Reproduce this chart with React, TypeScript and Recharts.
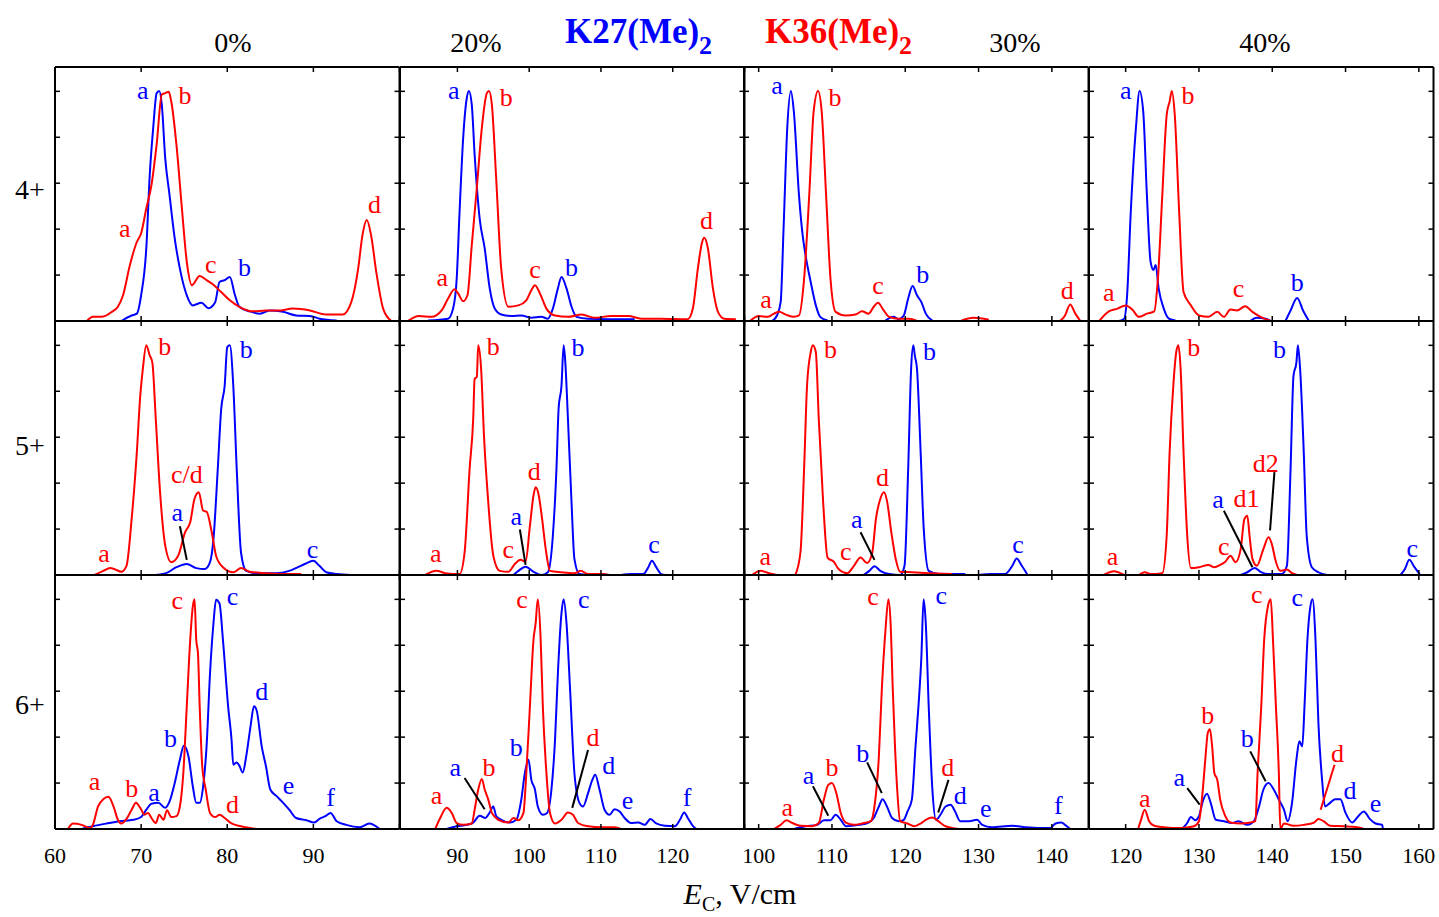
import React from "react";
import { LineChart, Line, XAxis, YAxis, ReferenceDot, ReferenceLine } from "recharts";

const FONT = '"Liberation Serif", "Times New Roman", serif';
const BLUE = "#0000ff";
const RED = "#ff0000";

// column = concentration, row = charge state
const concentrations = ["0%", "20%", "30%", "40%"];
const charges = ["4+", "5+", "6+"];
const colDomains = [[60, 100], [82, 130], [98, 145], [115, 162]];
const colTickMarks = [
  [60, 70, 80, 90, 100],
  [90, 100, 110, 120, 130],
  [100, 110, 120, 130, 140],
  [120, 130, 140, 150, 160],
];
const colTickLabels = [
  [60, 70, 80, 90],
  [90, 100, 110, 120],
  [100, 110, 120, 130, 140],
  [120, 130, 140, 150, 160],
];
const yTickMarks = [0, 1, 2, 3, 4, 5];

// ---- 4+ ----
const b4_0 = [[67.7,0],[68.9,0.12],[69.5,0.16],[70.0,0.56],[70.6,1.58],[71.0,3.18],[71.4,4.2],[71.8,4.96],[72.1,5.01],[72.4,4.71],[72.8,3.54],[73.3,2.74],[73.9,1.8],[74.5,1.14],[75.3,0.56],[76.0,0.34],[77.0,0.4],[77.8,0.28],[78.6,0.41],[79.1,0.85],[79.7,0.89],[80.3,0.96],[80.9,0.56],[81.4,0.31],[82.6,0.21],[83.8,0.16],[84.9,0.23],[86.5,0.2],[88.0,0.12],[89.6,0.11],[90.7,0.05],[92.7,0.01]];
const r4_0 = [[63.7,0],[64.4,0.09],[65.6,0.1],[66.6,0.2],[67.3,0.31],[67.9,0.56],[68.7,1.22],[69.5,1.72],[70.0,1.91],[70.6,2.45],[71.2,2.96],[71.8,3.84],[72.4,4.93],[72.8,4.96],[73.2,4.99],[73.5,4.78],[74.1,3.84],[74.7,2.53],[75.3,1.29],[75.9,0.78],[76.8,0.98],[77.6,0.89],[78.4,0.79],[79.3,0.63],[80.3,0.45],[81.4,0.31],[83.0,0.21],[84.5,0.23],[86.1,0.23],[87.6,0.27],[89.6,0.23],[91.5,0.14],[93.4,0.14],[94.4,0.41],[95.2,1.14],[95.7,1.87],[96.2,2.2],[96.7,1.87],[97.3,1.07],[98.1,0.27],[99.0,0.01]];
const b4_20 = [[85.9,0.01],[88.7,0.05],[89.4,0.27],[89.9,0.92],[90.3,2.38],[90.8,3.98],[91.3,4.85],[91.6,5.01],[92.0,4.71],[92.4,3.62],[93.1,2.23],[93.8,1.58],[94.5,0.71],[95.2,0.27],[96.1,0.14],[97.5,0.11],[98.9,0.12],[100.3,0.07],[101.7,0.09],[102.6,0.05],[103.3,0.27],[104.0,0.71],[104.5,0.96],[105.2,0.71],[105.9,0.31],[106.6,0.09],[108.2,0.05],[111.0,0.04],[114.7,0.04]];
const r4_20 = [[83.2,0.01],[84.6,0.11],[86.4,0.09],[87.8,0.23],[88.7,0.49],[89.6,0.69],[90.1,0.6],[90.8,0.43],[91.4,0.56],[92.0,1.65],[92.7,2.89],[93.4,4.2],[94.1,4.96],[94.4,5.01],[94.8,4.71],[95.4,3.11],[96.1,1.14],[97.1,0.31],[98.5,0.34],[99.6,0.45],[100.3,0.67],[100.8,0.78],[101.5,0.6],[102.4,0.27],[103.6,0.12],[105.4,0.09],[107.3,0.14],[109.1,0.07],[111.4,0.11],[113.8,0.11],[115.6,0.05],[118.4,0.05],[122.1,0.04],[122.8,0.27],[123.5,1.14],[124.1,1.72],[124.4,1.81],[124.9,1.58],[125.6,0.71],[126.3,0.2],[127.2,0.05],[128.8,0.04]];
const b4_30 = [[101.9,0.01],[102.5,0.12],[103.0,0.41],[103.4,2.02],[103.9,4.2],[104.4,5.01],[104.8,4.56],[105.5,2.74],[106.0,1.87],[106.4,1.43],[107.1,0.85],[107.8,0.34],[108.4,0.09],[109.4,0.01],[113,null],[117.3,0.01],[118.4,0.09],[119.1,0.04],[119.8,0.12],[120.4,0.49],[121.0,0.76],[121.6,0.56],[122.2,0.41],[122.8,0.16],[123.7,0.01]];
const r4_30 = [[98.9,0.01],[100.0,0.11],[101.2,0.09],[102.1,0.16],[102.8,0.2],[103.7,0.14],[104.8,0.09],[105.5,0.12],[106.2,0.92],[106.9,2.74],[107.5,4.56],[108.1,5.01],[108.6,4.56],[109.2,2.74],[109.8,0.92],[110.5,0.2],[111.9,0.12],[113.2,0.14],[114.1,0.21],[115.0,0.16],[115.7,0.31],[116.3,0.4],[116.9,0.27],[117.8,0.09],[119.1,0.05],[120.5,0.05],[121.6,0],[125,null],[127.7,0.01],[129.3,0.07],[131.4,0.03],[136,null],[141.1,0],[141.8,0.12],[142.5,0.36],[143.2,0.16],[143.9,0]];
const b4_40 = [[119.1,0],[119.8,0.05],[120.2,0.56],[120.7,2.38],[121.4,4.2],[121.9,5.01],[122.4,4.56],[122.9,2.74],[123.4,1.29],[123.8,1.11],[124.1,1.22],[124.5,0.71],[125.2,0.27],[125.9,0.05],[126.8,0.01],[130,null],[137.0,0],[137.9,0.07],[139.1,0.05],[139.8,0],[140.8,null],[141.8,0],[142.5,0.23],[143.4,0.5],[144.2,0.23],[145.0,0]];
const r4_40 = [[116.4,0],[117.7,0.21],[118.9,0.27],[120.0,0.34],[120.9,0.25],[121.8,0.09],[122.9,0.16],[123.9,0.21],[124.4,0.92],[125.0,2.74],[125.6,4.49],[126.0,4.78],[126.3,5.01],[126.7,4.49],[127.3,2.38],[127.9,0.63],[128.9,0.34],[130.0,0.12],[131.3,0.09],[132.5,0.2],[133.4,0.09],[134.3,0.25],[135.2,0.23],[136.3,0.32],[137.3,0.2],[138.4,0.09],[139.8,0]];

// ---- 5+ ----
const b5_0 = [[71.6,0],[72.9,0.04],[74.1,0.17],[75.3,0.24],[76.4,0.15],[77.4,0.13],[78.0,0.28],[78.4,0.78],[78.9,2.31],[79.3,3.62],[79.7,4.12],[80.0,4.96],[80.3,5.0],[80.7,4.12],[81.1,2.31],[81.6,0.49],[82.2,0.09],[83.4,0.04],[85.7,0.04],[87.2,0.09],[88.2,0.17],[89.0,0.24],[90.0,0.31],[90.7,0.2],[91.5,0.06],[92.7,0.02],[94.4,0]];
const r5_0 = [[64.6,0],[65.6,0.09],[66.4,0.15],[67.0,0.12],[67.7,0.07],[68.3,0.2],[68.9,1.22],[69.5,2.67],[69.9,3.91],[70.2,4.49],[70.6,5.0],[71.0,4.78],[71.3,4.63],[71.7,3.4],[72.2,1.8],[72.8,0.64],[73.5,0.28],[74.3,0.42],[75.1,0.93],[75.7,1.15],[76.2,1.66],[76.7,1.8],[77.2,1.4],[77.6,1.38],[78.2,0.93],[78.7,0.42],[79.5,0.17],[80.7,0.06],[81.6,0.15],[82.6,0.07],[84.5,0.04],[86.5,0.02],[88.6,0.02]];
const b5_20 = [[97.8,0],[98.5,0.09],[99.5,0.18],[100.6,0.07],[101.7,0],[102.6,0.06],[103.3,0.86],[103.8,2.31],[104.1,3.62],[104.5,4.12],[104.8,5.0],[105.0,4.71],[105.4,3.4],[105.9,1.58],[106.3,0.35],[107.0,0.02],[108.7,0],[109.6,0.02],[111.0,0],[112,null],[112.8,0],[114.2,0.02],[115.9,0.02],[116.6,0.17],[117.1,0.31],[117.7,0.17],[118.4,0.02],[119.0,0]];
const r5_20 = [[85.5,0],[87.1,0.09],[88.3,0.04],[90.3,0.02],[91.0,0.49],[91.7,2.31],[92.2,3.4],[92.4,4.27],[92.7,4.31],[92.9,5.0],[93.3,4.49],[93.7,3.04],[94.3,1.58],[95.0,0.42],[95.9,0.09],[97.1,0.07],[98.0,0.24],[98.8,0.33],[99.5,0.29],[100.1,1.07],[100.6,1.73],[100.9,1.91],[101.3,1.76],[101.8,1.22],[102.3,0.57],[102.9,0.09],[104.5,0.06],[106.3,0.04],[107.2,0.09],[108.2,0.02],[110.1,0.02],[111.2,0]];
const b5_30 = [[114.3,0],[115.1,0.09],[115.8,0.19],[116.6,0.09],[117.8,0.02],[119.3,0],[119.9,0.2],[120.4,2.31],[120.8,4.49],[121.1,5.0],[121.3,4.78],[121.6,4.49],[122.1,2.67],[122.5,1.07],[123.2,0.09],[124.6,0.02],[128.2,0.02],[129,null],[130.0,0],[131.8,0.02],[133.6,0.02],[134.6,0.2],[135.2,0.36],[135.9,0.2],[136.7,0]];
const r5_30 = [[99.1,0],[100.3,0.09],[101.4,0.04],[102.5,0],[104,null],[105.0,0],[105.7,0.49],[106.2,2.31],[106.6,4.12],[107.1,4.85],[107.4,5.0],[107.8,4.85],[108.2,3.4],[108.8,1.58],[109.4,0.38],[110.3,0.28],[110.9,0.13],[112.1,0.04],[113.0,0.2],[113.9,0.38],[114.8,0.26],[115.5,0.49],[116.0,1.22],[116.6,1.66],[117.1,1.8],[117.5,1.62],[118.1,0.93],[118.7,0.35],[119.3,0.07],[120.9,0.06],[123.2,0.04],[126.4,0.02]];
const b5_40 = [[135.7,0],[136.6,0.06],[137.6,0.15],[138.4,0.07],[139.5,0.02],[141.3,0.02],[142.0,0.2],[142.5,2.31],[142.9,4.34],[143.3,4.63],[143.5,5.0],[143.8,4.49],[144.3,2.67],[144.7,0.86],[145.4,0.17],[146.3,0.06],[147.5,0],[150,null],[157.5,0],[158.1,0.13],[158.7,0.33],[159.4,0.17],[160.2,0]];
const r5_40 = [[117.0,0],[118.4,0.08],[119.8,0],[121,null],[121.8,0],[122.6,0.06],[123.4,0.02],[125.0,0.04],[125.6,0.86],[126.0,2.67],[126.5,4.12],[126.9,4.85],[127.2,5.0],[127.5,4.49],[127.9,2.67],[128.4,0.86],[128.9,0.15],[130.0,0.17],[131.3,0.22],[132.1,0.17],[132.9,0.22],[133.6,0.29],[134.3,0.42],[135.0,0.28],[135.7,0.57],[136.2,1.22],[136.6,1.29],[136.9,0.86],[137.3,0.35],[137.9,0.2],[138.8,0.57],[139.5,0.82],[140.0,0.64],[140.4,0.35],[141.1,0.09],[142.0,0.12],[142.7,0.04],[143.4,0]];

// ---- 6+ ----
const b6_0 = [[63.1,0],[64.4,0.06],[66.0,0.12],[67.5,0.17],[69.1,0.2],[70.0,0.26],[70.6,0.42],[71.2,0.55],[72.0,0.57],[72.8,0.46],[73.3,0.6],[73.9,1.0],[74.5,1.51],[74.96,1.81],[75.5,1.58],[76.0,0.93],[76.4,0.57],[76.8,0.57],[77.2,0.93],[77.6,1.8],[78.0,3.39],[78.4,4.48],[78.7,4.99],[79.1,4.91],[79.5,4.12],[80.1,2.67],[80.5,1.94],[80.7,1.4],[81.1,1.45],[81.4,1.38],[81.8,1.23],[82.2,1.58],[82.7,2.23],[83.1,2.67],[83.4,2.59],[84.0,1.8],[84.5,1.36],[85.0,0.86],[85.7,0.72],[86.5,0.57],[87.2,0.42],[88.0,0.24],[89.2,0.19],[90.1,0.14],[90.7,0.22],[91.4,0.28],[92.0,0.35],[92.7,0.17],[93.8,0.09],[95.4,0.04],[96.5,0.12],[97.7,0]];
const r6_0 = [[61.5,0],[62.1,0.12],[63.1,0.09],[64.1,0.02],[64.4,0.09],[65.0,0.49],[65.6,0.65],[66.2,0.7],[66.8,0.49],[67.3,0.2],[67.7,0.12],[68.3,0.22],[68.9,0.42],[69.4,0.57],[69.9,0.46],[70.4,0.31],[70.8,0.35],[71.2,0.24],[71.7,0.13],[72.1,0.31],[72.6,0.2],[73.0,0.41],[73.5,0.26],[74.1,0.28],[74.5,0.49],[74.9,1.22],[75.3,2.67],[75.7,4.12],[76.0,4.84],[76.2,5.0],[76.4,4.12],[76.6,3.83],[76.8,2.67],[77.1,1.36],[77.5,0.86],[78.0,0.35],[78.6,0.26],[79.1,0.31],[79.7,0.24],[80.5,0.12],[81.6,0.06],[83.4,0]];
const b6_20 = [[88.5,0],[89.9,0.06],[91.3,0.09],[92.2,0.14],[93.1,0.29],[93.9,0.24],[94.5,0.36],[95.0,0.49],[95.4,0.28],[96.1,0.2],[97.3,0.14],[98.2,0.2],[98.9,0.64],[99.4,1.22],[99.9,1.51],[100.3,1.07],[100.8,0.86],[101.2,0.49],[101.9,0.31],[102.5,0.35],[103.1,0.86],[103.6,1.94],[104.0,3.39],[104.5,4.7],[104.8,5.0],[105.2,4.48],[105.7,3.03],[106.3,1.22],[107.0,0.57],[107.5,0.49],[108.2,0.78],[108.8,1.07],[109.2,1.18],[109.8,0.86],[110.5,0.42],[111.2,0.31],[111.9,0.43],[112.6,0.38],[113.3,0.24],[114.2,0.13],[115.2,0.14],[116.1,0.09],[116.9,0.22],[117.7,0.12],[118.9,0.07],[120.3,0.06],[121.0,0.2],[121.6,0.36],[122.1,0.24],[122.8,0.07],[123.3,0]];
const r6_20 = [[86.9,0],[87.6,0.24],[88.5,0.46],[89.2,0.35],[89.9,0.13],[90.8,0.09],[92.0,0.12],[92.4,0.42],[92.9,0.86],[93.4,1.09],[93.8,0.86],[94.3,0.64],[94.8,0.35],[95.7,0.2],[97.1,0.14],[97.8,0.24],[98.5,0.19],[99.2,0.35],[99.6,1.22],[100.1,2.67],[100.6,4.12],[100.9,4.48],[101.2,5.0],[101.6,4.12],[101.9,2.67],[102.4,1.22],[102.9,0.35],[103.6,0.12],[104.5,0.2],[105.4,0.36],[106.1,0.31],[106.8,0.13],[108.2,0.06],[110.1,0.04],[111.9,0.04],[112.8,0]];
const b6_30 = [[104.8,0],[106.4,0.06],[108.0,0.09],[108.9,0.19],[109.8,0.19],[110.5,0.31],[111.2,0.2],[111.9,0.06],[113.7,0.09],[115.0,0.14],[115.7,0.24],[116.4,0.49],[116.9,0.65],[117.5,0.49],[118.2,0.24],[119.1,0.17],[119.8,0.2],[120.3,0.38],[120.9,0.64],[121.4,1.8],[121.8,2.67],[122.2,3.75],[122.5,5.0],[122.8,4.48],[123.2,2.67],[123.7,0.86],[124.2,0.2],[124.8,0.31],[125.5,0.49],[126.2,0.53],[126.8,0.38],[127.5,0.17],[128.7,0.17],[129.8,0.2],[130.5,0.09],[131.8,0.04],[134.6,0.07],[136.4,0.04],[139.8,0.02],[140.5,0.12],[141.3,0.14],[141.8,0.09],[142.5,0]];
const r6_30 = [[102.1,0],[103.0,0.09],[103.8,0.19],[104.6,0.13],[105.7,0.07],[107.3,0.06],[108.2,0.13],[108.9,0.64],[109.5,0.96],[110.0,1.0],[110.6,0.78],[111.2,0.35],[111.9,0.14],[113.0,0.09],[114.1,0.12],[115.3,0.17],[115.8,0.49],[116.4,1.58],[116.8,3.03],[117.3,4.33],[117.7,5.0],[118.0,4.48],[118.3,3.03],[118.6,1.8],[118.9,0.86],[119.3,0.17],[120.3,0.12],[121.2,0.06],[122.1,0.12],[122.8,0.2],[123.7,0.25],[124.5,0.17],[125.5,0.06],[127.3,0]];
const b6_40 = [[127.7,0],[128.4,0.13],[128.9,0.26],[129.5,0.19],[130.0,0.28],[130.6,0.64],[131.1,0.77],[131.6,0.57],[132.3,0.2],[133.4,0.17],[134.5,0.13],[135.4,0.17],[136.6,0.09],[137.5,0.17],[138.2,0.49],[138.8,0.86],[139.5,1.0],[140.2,0.86],[140.9,0.64],[141.6,0.42],[142.1,0.17],[142.7,0.57],[143.3,1.51],[143.7,1.91],[144.1,1.8],[144.4,2.67],[144.8,4.12],[145.2,4.84],[145.5,5.0],[145.9,4.12],[146.3,2.3],[146.8,1.07],[147.2,0.49],[147.9,0.57],[148.6,0.65],[149.3,0.65],[150.0,0.35],[150.9,0.14],[151.8,0.29],[152.5,0.38],[153.3,0.22],[154.1,0.12],[155.0,0.09],[155.1,0]];
const r6_40 = [[121.7,0],[122.1,0.2],[122.6,0.42],[123.2,0.17],[123.9,0.07],[125.2,0.04],[127.5,0.02],[129.3,0.06],[130.0,0.17],[130.4,0.64],[130.9,1.58],[131.2,2.09],[131.5,2.17],[131.8,1.8],[132.1,1.22],[132.5,1.07],[132.9,0.64],[133.6,0.28],[134.3,0.14],[135.7,0.12],[137.0,0.14],[137.7,0.17],[138.0,1.22],[138.5,2.67],[138.9,4.12],[139.4,4.84],[139.8,5.0],[140.1,4.12],[140.5,2.67],[140.9,1.22],[141.1,0],[141.6,0.12],[142.9,0.07],[144.3,0.09],[145.7,0.14],[146.3,0.22],[147.0,0.17],[147.9,0.07],[149.7,0.06],[151.6,0.04],[152.5,0]];

// peak labels: [x, y, text, series]
const n4_0 = [[70.2,5.04,"a","k27"],[75.1,4.93,"b","k36"],[68.1,2.02,"a","k36"],[78.1,1.25,"c","k36"],[82.0,1.18,"b","k27"],[97.1,2.56,"d","k36"]];
const n4_20 = [[89.5,5.04,"a","k27"],[96.8,4.89,"b","k36"],[87.9,0.96,"a","k36"],[100.8,1.14,"c","k36"],[105.9,1.18,"b","k27"],[124.7,2.2,"d","k36"]];
const n4_30 = [[102.5,5.15,"a","k27"],[110.4,4.89,"b","k36"],[101.0,0.49,"a","k36"],[116.3,0.78,"c","k36"],[122.4,1.03,"b","k27"],[142.1,0.67,"d","k36"]];
const n4_40 = [[120.0,5.04,"a","k27"],[128.5,4.93,"b","k36"],[117.7,0.63,"a","k36"],[135.4,0.72,"c","k36"],[143.4,0.85,"b","k27"]];
const n5_0 = [[72.75,5.0,"b","k36"],[82.2,4.92,"b","k27"],[75.3,2.2,"c/d","k36"],[74.2,1.38,"a","k27"],[65.7,0.49,"a","k36"],[89.9,0.58,"c","k27"]];
const n5_20 = [[95.0,5.0,"b","k36"],[106.8,4.96,"b","k27"],[100.7,2.27,"d","k36"],[98.2,1.29,"a","k27"],[97.1,0.57,"c","k36"],[87.0,0.49,"a","k36"],[117.4,0.68,"c","k27"]];
const n5_30 = [[109.8,4.92,"b","k36"],[123.3,4.89,"b","k27"],[116.9,2.13,"d","k36"],[113.4,1.22,"a","k27"],[111.9,0.53,"c","k36"],[100.9,0.42,"a","k36"],[135.4,0.68,"c","k27"]];
const n5_40 = [[129.3,4.96,"b","k36"],[141.0,4.92,"b","k27"],[139.1,2.45,"d2","k36"],[136.5,1.69,"d1","k36"],[132.6,1.66,"a","k27"],[133.4,0.64,"c","k36"],[118.2,0.42,"a","k36"],[159.1,0.6,"c","k27"]];
const n6_0 = [[74.2,4.99,"c","k36"],[80.6,5.07,"c","k27"],[84.0,3.01,"d","k27"],[73.4,1.98,"b","k27"],[64.6,1.04,"a","k36"],[68.9,0.89,"b","k36"],[71.5,0.82,"a","k27"],[87.1,0.96,"e","k27"],[80.6,0.55,"d","k36"],[92.0,0.71,"f","k27"]];
const n6_20 = [[99.0,5.02,"c","k36"],[107.6,5.02,"c","k27"],[98.2,1.8,"b","k27"],[108.9,2.01,"d","k36"],[89.7,1.36,"a","k27"],[94.4,1.36,"b","k36"],[111.1,1.4,"d","k27"],[87.1,0.75,"a","k36"],[113.7,0.64,"e","k27"],[122.0,0.71,"f","k27"]];
const n6_30 = [[115.6,5.07,"c","k36"],[124.9,5.09,"c","k27"],[114.2,1.65,"b","k27"],[125.8,1.36,"d","k36"],[106.8,1.18,"a","k27"],[110.0,1.36,"b","k36"],[127.5,0.75,"d","k27"],[103.9,0.49,"a","k36"],[131.0,0.46,"e","k27"],[140.9,0.53,"f","k27"]];
const n6_40 = [[137.9,5.12,"c","k36"],[143.4,5.06,"c","k27"],[131.2,2.49,"b","k36"],[136.6,1.98,"b","k27"],[148.9,1.65,"d","k36"],[127.3,1.14,"a","k27"],[150.6,0.86,"d","k27"],[122.6,0.67,"a","k36"],[154.1,0.57,"e","k27"]];

// leader lines: [x1, y1, x2, y2, series or "none"]
const l5_0 = [[74.5,1.06,75.3,0.33,"none"]];
const l5_20 = [[98.7,0.99,99.5,0.22,"none"]];
const l5_30 = [[113.9,0.93,115.8,0.33,"none"]];
const l5_40 = [[133.4,1.4,137.3,0.17,"none"],[140.3,2.24,139.7,0.97,"none"]];
const l6_20 = [[91.0,1.11,93.8,0.43,"none"],[108.2,1.72,106.0,0.46,"none"]];
const l6_30 = [[107.4,0.93,109.5,0.29,"none"],[114.8,1.45,116.8,0.78,"none"],[125.9,1.07,124.5,0.36,"none"]];
const l6_40 = [[128.4,0.89,130.1,0.53,"none"],[137.0,1.69,139.1,1.04,"none"],[148.5,1.4,146.6,0.42,"k36"]];

const k27Grid = [[b4_0, b4_20, b4_30, b4_40], [b5_0, b5_20, b5_30, b5_40], [b6_0, b6_20, b6_30, b6_40]];
const k36Grid = [[r4_0, r4_20, r4_30, r4_40], [r5_0, r5_20, r5_30, r5_40], [r6_0, r6_20, r6_30, r6_40]];
const noteGrid = [[n4_0, n4_20, n4_30, n4_40], [n5_0, n5_20, n5_30, n5_40], [n6_0, n6_20, n6_30, n6_40]];
const leaderGrid = [[[], [], [], []], [l5_0, l5_20, l5_30, l5_40], [[], l6_20, l6_30, l6_40]];

const colorOf = (s) => (s === "k27" ? BLUE : s === "k36" ? RED : "#000");
const toPoints = (arr) => arr.map(([x, y]) => ({ x, y }));

// draws nothing, so only the (inward) tick lines show
const NoTick = () => <g />;

const PLOT_LEFT = 55;
const PLOT_TOP = 67;
const PW = 344.5;
const PH = 254;
const YMAX = 5.53;
const MX = 22;
const MY = 4;

const Panel = ({ row, col }) => {
  const bottom = row === 2;
  const left = PLOT_LEFT + col * PW;
  const top = PLOT_TOP + row * PH;
  const h = PH + 2 * MY + (bottom ? 50 : 0);
  const axisStroke = { stroke: "#000", strokeWidth: 2 };
  const tickStroke = { stroke: "#000", strokeWidth: 1.5 };
  return (
    <div style={{ position: "absolute", left: left - MX, top: top - MY }}>
      <LineChart width={PW + 2 * MX} height={h} margin={{ top: MY, right: MX, bottom: MY, left: MX }}>
        <XAxis xAxisId={0} type="number" dataKey="x" domain={colDomains[col]} allowDataOverflow
          ticks={colTickMarks[col]} interval={0} orientation="bottom" mirror tick={NoTick} tickSize={5}
          axisLine={axisStroke} tickLine={tickStroke} />
        <XAxis xAxisId="top" type="number" dataKey="x" domain={colDomains[col]} allowDataOverflow
          ticks={colTickMarks[col]} interval={0} orientation="top" mirror tick={NoTick} tickSize={5}
          axisLine={axisStroke} tickLine={tickStroke} />
        {bottom && (
          <XAxis xAxisId="lbl" type="number" dataKey="x" domain={colDomains[col]} allowDataOverflow
            ticks={colTickLabels[col]} orientation="bottom" height={50} axisLine={false} tickLine={false}
            tickSize={0} tickMargin={18} interval={0}
            tick={{ fontSize: 22, fontFamily: FONT, fill: "#000", style: { fontFamily: FONT } }} />
        )}
        <YAxis yAxisId={0} type="number" domain={[0, YMAX]} allowDataOverflow ticks={yTickMarks} interval={0}
          orientation="left" mirror tick={NoTick} tickSize={5} axisLine={axisStroke} tickLine={tickStroke} />
        <YAxis yAxisId="r" type="number" domain={[0, YMAX]} allowDataOverflow ticks={yTickMarks} interval={0}
          orientation="right" mirror tick={NoTick} tickSize={5} axisLine={axisStroke} tickLine={tickStroke} />
        <Line data={toPoints(k27Grid[row][col])} dataKey="y" type="monotone" stroke={BLUE}
          strokeWidth={2} dot={false} activeDot={false} connectNulls={false} isAnimationActive={false} />
        <Line data={toPoints(k36Grid[row][col])} dataKey="y" type="monotone" stroke={RED}
          strokeWidth={2} dot={false} activeDot={false} connectNulls={false} isAnimationActive={false} />
        {leaderGrid[row][col].map(([x1, y1, x2, y2, s], i) => (
          <ReferenceLine key={"l" + i} segment={[{ x: x1, y: y1 }, { x: x2, y: y2 }]}
            stroke={colorOf(s)} strokeWidth={2} ifOverflow="visible" />
        ))}
        {noteGrid[row][col].map(([x, y, t, s], i) => (
          <ReferenceDot key={"n" + i} x={x} y={y} r={1} fill="none" stroke="none" ifOverflow="visible"
            label={{ value: t, position: "center", fill: colorOf(s), fontSize: 26, fontFamily: FONT, style: { fontFamily: FONT } }} />
        ))}
      </LineChart>
    </div>
  );
};

const headerX = [233, 476, 1015, 1265];
const rowLabelY = [199, 455, 714];

export default function App() {
  return (
    <div style={{ position: "absolute", left: 0, top: 0, width: 1439, height: 917, overflow: "hidden", background: "#fff", fontFamily: FONT }}>
      {charges.map((_, r) => concentrations.map((_, c) => <Panel key={r + "-" + c} row={r} col={c} />))}
      <svg width={1439} height={917} style={{ position: "absolute", left: 0, top: 0, pointerEvents: "none", fontFamily: FONT }}>
        {concentrations.map((t, c) => (
          <text key={t} x={headerX[c]} y={52} fontSize={28} textAnchor="middle" fill="#000">{t}</text>
        ))}
        {charges.map((t, r) => (
          <text key={t} x={30} y={rowLabelY[r]} fontSize={28} textAnchor="middle" fill="#000">{t}</text>
        ))}
        <text x={565} y={43} fontSize={35} fontWeight="bold" fill={BLUE}>
          K27(Me)<tspan fontSize={26} dy={11}>2</tspan>
        </text>
        <text x={765} y={43} fontSize={35} fontWeight="bold" fill={RED}>
          K36(Me)<tspan fontSize={26} dy={11}>2</tspan>
        </text>
        <text x={740} y={904} fontSize={30} textAnchor="middle" fill="#000">
          <tspan fontStyle="italic">E</tspan>
          <tspan fontSize={20} dy={7}>C</tspan>
          <tspan dy={-7}>, V/cm</tspan>
        </text>
      </svg>
    </div>
  );
}
